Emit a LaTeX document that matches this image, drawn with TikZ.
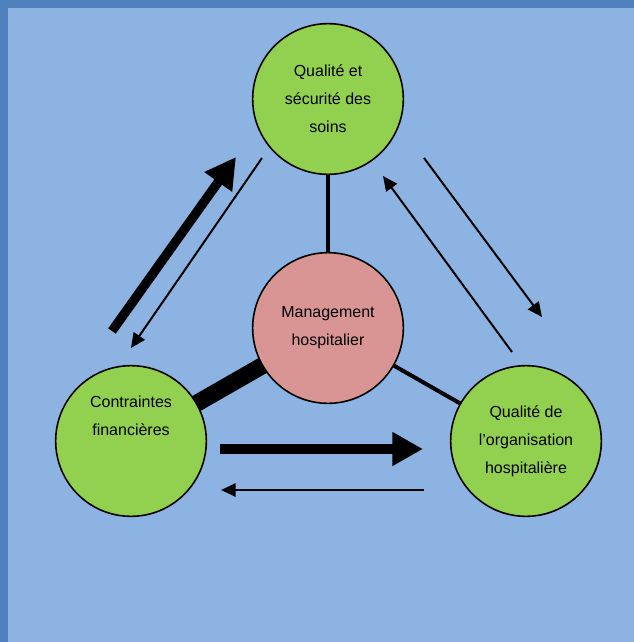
\documentclass[tikz,border=0pt]{standalone}
\usepackage{fontspec}
\setmainfont{Liberation Sans}
\usetikzlibrary{arrows.meta}
\usetikzlibrary{backgrounds}
\definecolor{bgblue}{HTML}{8DB3E2}
\definecolor{edgeblue}{HTML}{4F81BD}
\definecolor{leafgreen}{HTML}{92D050}
\definecolor{rosepink}{HTML}{D99594}

\begin{document}
\begin{tikzpicture}[x=0.75pt,y=-0.75pt,
    bubble/.style={circle,draw,line width=1.2pt,minimum size=113pt,inner sep=0pt,
      align=center,font=\fontsize{12}{21}\selectfont},
    link/.style={line width=3pt},
    bigarrow/.style={line width=7pt,-{Triangle[length=23pt,width=24pt]}},
    smallarrow/.style={line width=1.5pt,-{Triangle[length=11pt,width=10pt]}}]
  \useasboundingbox (0,0) rectangle (634,642);

  %draw circles
  \node[bubble,fill=leafgreen] (qualite) at (328,99) {Qualité et\\sécurité des\\soins};
  \node[bubble,fill=rosepink] (management) at (328,328) {Management\\hospitalier};
  \node[bubble,fill=leafgreen] (contraintes) at (131,441) {Contraintes\\financières\\[17pt]~};
  \node[bubble,fill=leafgreen] (organisation) at (526,441) {Qualité de\\l’organisation\\hospitalière};

  %background and links behind the circles
  \begin{pgfonlayer}{background}
    \fill[bgblue] (0,0) rectangle (634,642);
    \fill[edgeblue] (0,0) rectangle (634,8);
    \fill[edgeblue] (0,0) rectangle (8,642);
    \draw[link] (qualite.center) -- (management.center);
    \draw[link] (organisation.center) -- (management.center);
    \draw[line width=12.75pt] (contraintes.center) -- (management.center);
  \end{pgfonlayer}

  %arrow ends
  \coordinate (a1) at (112,331); \coordinate (b1) at (236,157);
  \coordinate (a2) at (262,158); \coordinate (b2) at (131,348);
  \coordinate (a3) at (512,352); \coordinate (b3) at (383,176);
  \coordinate (a4) at (424,158); \coordinate (b4) at (542,317);
  \coordinate (a5) at (220,449); \coordinate (b5) at (423,449);
  \coordinate (a6) at (424,490); \coordinate (b6) at (221,490);

  %draw arrows
  \draw[bigarrow] (a1) -- (b1);
  \draw[smallarrow] (a2) -- (b2);
  \draw[smallarrow] (a3) -- (b3);
  \draw[smallarrow] (a4) -- (b4);
  \draw[bigarrow] (a5) -- (b5);
  \draw[smallarrow] (a6) -- (b6);
\end{tikzpicture}
\end{document}
